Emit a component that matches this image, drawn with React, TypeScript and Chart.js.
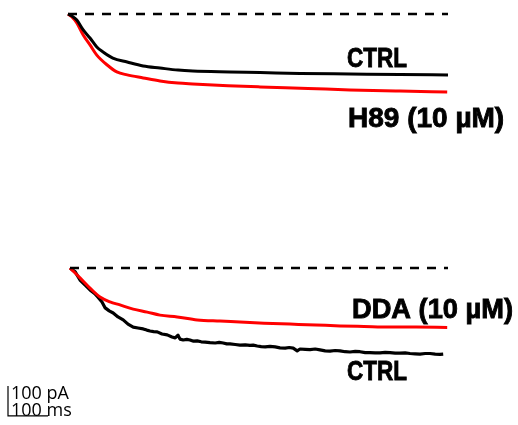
import React, { useEffect, useRef } from "react";
import { Chart, registerables } from "chart.js";

Chart.register(...registerables);

// ---- Data (time in ms, current in pA) ----
const topCtrlT = [0, 10, 22, 38, 55, 72, 88, 112, 148, 188, 230, 275, 312, 405, 480, 580, 705, 830, 950];
const topCtrlI = [0, -7, -20, -53, -80, -110, -127, -147, -160, -173, -180, -187, -190, -193, -195, -198, -200, -202, -203];

const topH89T = [0, 10, 22, 38, 55, 72, 98, 122, 148, 188, 230, 275, 312, 400, 480, 600, 705, 830, 948];
const topH89I = [0, -10, -30, -70, -103, -137, -170, -193, -203, -213, -223, -230, -233, -239, -243, -248, -253, -257, -260];

const botDdaT = [5, 30, 55, 80, 105, 130, 163, 198, 230, 273, 323, 380, 430, 490, 555, 620, 680, 740, 805, 870, 948];
const botDdaI = [0, -33, -67, -97, -113, -123, -137, -147, -157, -163, -173, -177, -180, -184, -187, -190, -193, -195, -197, -197, -198];

const botCtrlT = [5, 18, 30, 43, 55, 68, 75, 85, 93, 103, 113, 125, 138, 150, 163, 175, 188, 197, 205, 214, 223, 235, 248, 260, 268, 275, 280, 288, 297, 305, 314, 323, 333, 343, 355, 368, 378, 388, 397, 405, 418, 430, 443, 455, 463, 473, 483, 493, 505, 518, 530, 543, 553, 563, 573, 580, 593, 605, 618, 630, 643, 655, 668, 680, 693, 705, 718, 730, 743, 755, 768, 780, 793, 805, 818, 830, 843, 855, 868, 880, 893, 905, 918, 930, 938];
const botCtrlI = [0, -13, -40, -57, -73, -87, -97, -113, -133, -143, -150, -163, -173, -187, -197, -200, -203, -207, -210, -212, -213, -220, -223, -230, -233, -224, -237, -240, -238, -240, -244, -243, -246, -247, -249, -250, -248, -250, -253, -253, -255, -257, -256, -258, -257, -260, -262, -263, -261, -263, -266, -267, -265, -267, -276, -270, -271, -272, -270, -273, -276, -277, -275, -276, -279, -280, -278, -279, -282, -282, -283, -283, -281, -282, -284, -284, -283, -285, -286, -287, -285, -285, -287, -288, -287];

const baselineT = [0, 950];
const baselineI = [0, 0];

const labels = ["CTRL", "H89 (10 \u00b5M)", "DDA (10 \u00b5M)", "CTRL"];
const scaleBarLabels = ["100 pA", "100 ms"];
const scaleBarValues = [100, 100]; // pA, ms

const toXY = (t: number[], v: number[]) => t.map((x, i) => ({ x, y: v[i] }));

export default function App() {
  const ref = useRef<HTMLCanvasElement | null>(null);

  useEffect(() => {
    document.body.style.margin = "0";
    const canvas = ref.current;
    if (!canvas) return;

    const overlay = {
      id: "overlay",
      afterDraw(chart: any) {
        const ctx = chart.ctx;
        const xs = chart.scales.x;
        const yb = chart.scales.yBot;
        ctx.save();
        ctx.fillStyle = "#000";
        ctx.strokeStyle = "#000";
        ctx.textBaseline = "alphabetic";
        ctx.textAlign = "left";
        ctx.font = "bold 28px 'Liberation Sans', Arial, sans-serif";
        ctx.lineWidth = 0.9;
        const put = (s: string, x: number, y: number, w: number) => {
          ctx.fillText(s, x, y, w);
          ctx.strokeText(s, x, y, w);
        };
        put(labels[0], 347, 67, 60);
        put(labels[1], 348, 127, 160);
        put(labels[2], 352, 318, 161);
        put(labels[3], 347, 380, 60);

        // scale bar
        const t0 = -150;
        const v0 = -493;
        const x0 = xs.getPixelForValue(t0);
        const x1 = xs.getPixelForValue(t0 + scaleBarValues[1]);
        const y0 = yb.getPixelForValue(v0);
        const y1 = yb.getPixelForValue(v0 + scaleBarValues[0]);
        ctx.lineWidth = 1.2;
        ctx.beginPath();
        ctx.moveTo(x0, y1);
        ctx.lineTo(x0, y0);
        ctx.lineTo(x1, y0);
        ctx.stroke();
        ctx.font = "18px 'Open Sans', 'Noto Sans', sans-serif";
        ctx.fillText(scaleBarLabels[0], 11, 399);
        ctx.fillText(scaleBarLabels[1], 11, 416);
        ctx.restore();
      },
    };

    const dashed = {
      borderColor: "#000",
      borderWidth: 2.5,
      borderDash: [9, 8],
      pointRadius: 0,
      fill: false,
    };

    const chart = new Chart(canvas, {
      type: "line",
      data: {
        datasets: [
          { ...dashed, label: "base top", data: toXY(baselineT, baselineI), yAxisID: "yTop" },
          { ...dashed, label: "base bot", data: toXY(baselineT.map((t, i) => (i === 0 ? 5 : t)), baselineI), yAxisID: "yBot" },
          { label: "CTRL top", data: toXY(topCtrlT, topCtrlI), yAxisID: "yTop", borderColor: "#000", borderWidth: 3, pointRadius: 0, cubicInterpolationMode: "monotone" },
          { label: "H89", data: toXY(topH89T, topH89I), yAxisID: "yTop", borderColor: "#ff0000", borderWidth: 3, pointRadius: 0, cubicInterpolationMode: "monotone" },
          { label: "DDA", data: toXY(botDdaT, botDdaI), yAxisID: "yBot", borderColor: "#ff0000", borderWidth: 3, pointRadius: 0, cubicInterpolationMode: "monotone" },
          { label: "CTRL bot", data: toXY(botCtrlT, botCtrlI), yAxisID: "yBot", borderColor: "#000", borderWidth: 3.2, pointRadius: 0, tension: 0 },
        ],
      },
      options: {
        animation: false,
        responsive: false,
        maintainAspectRatio: false,
        devicePixelRatio: 1,
        layout: { padding: 0 },
        plugins: { legend: { display: false }, tooltip: { enabled: false } },
        elements: { line: { borderJoinStyle: "round" } },
        scales: {
          x: { type: "linear", display: false, min: -170, max: 1125 },
          yTop: { type: "linear", display: false, position: "left", min: -1370, max: 46.7 },
          yBot: { type: "linear", display: false, position: "left", min: -523.3, max: 893.3 },
        },
      },
      plugins: [overlay],
    });
    return () => chart.destroy();
  }, []);

  return (
    <div style={{ width: 518, height: 425, background: "#fff" }}>
      <canvas ref={ref} width={518} height={425} style={{ display: "block", width: 518, height: 425 }} />
    </div>
  );
}
